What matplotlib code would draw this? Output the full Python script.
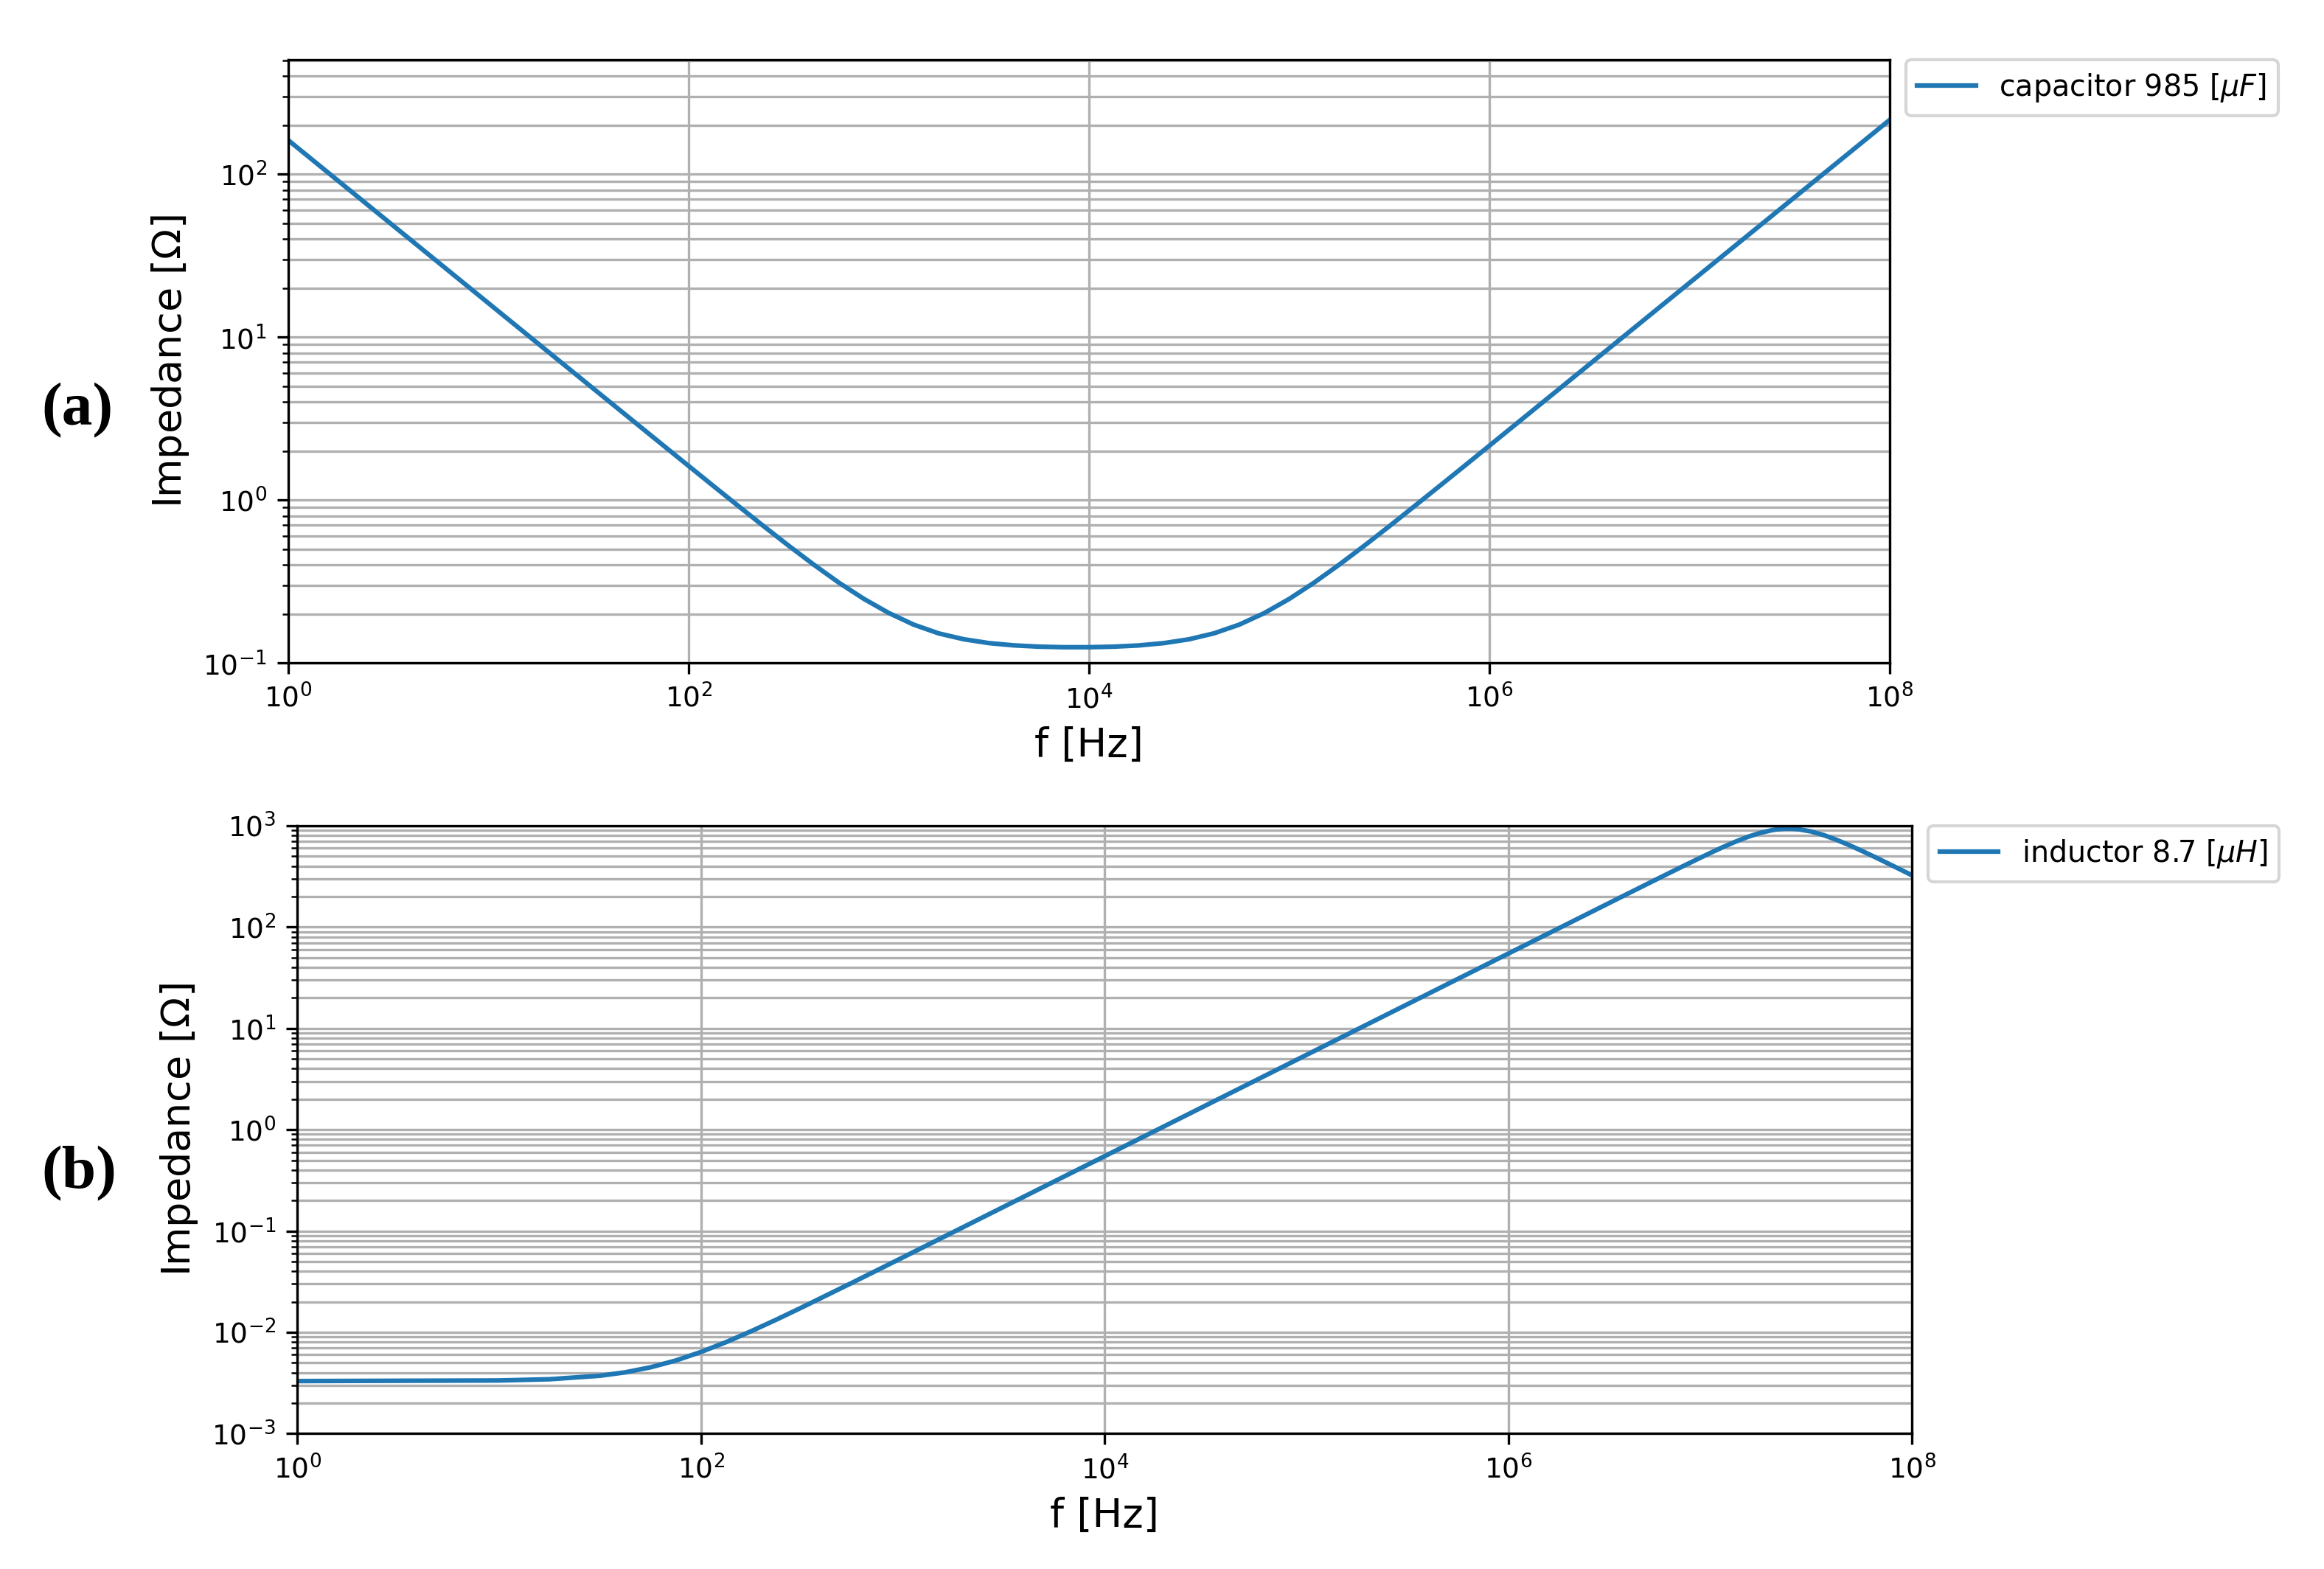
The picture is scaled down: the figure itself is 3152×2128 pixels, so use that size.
import numpy as np
import matplotlib
matplotlib.use('Agg')
import matplotlib.pyplot as plt
from matplotlib.ticker import NullLocator

# capacitor 985 uF : |Z| (log10 of f, |Z| in ohm)
logf_cap = [0, 0.5, 1, 1.5, 1.75, 1.875, 2, 2.125, 2.25, 2.375, 2.5, 2.625, 2.75, 2.875,
            3, 3.125, 3.25, 3.375, 3.5, 3.625, 3.75, 3.875, 4, 4.125, 4.25, 4.375, 4.5,
            4.625, 4.75, 4.875, 5, 5.125, 5.25, 5.375, 5.5, 5.625, 5.75, 5.875, 6, 7, 8]
z_cap = [161.6, 51.1, 16.16, 5.11, 2.876, 2.158, 1.621, 1.218, 0.917, 0.692, 0.525, 0.402, 0.312, 0.248,
         0.203, 0.172, 0.152, 0.140, 0.1326, 0.1284, 0.1261, 0.1251, 0.1251, 0.1261, 0.1283, 0.1326, 0.1399,
         0.1522, 0.1719, 0.2022, 0.2472, 0.3115, 0.4012, 0.524, 0.690, 0.915, 1.215, 1.616, 2.153, 21.5, 215.0]

# inductor 8.7 uH : |Z|
logf_ind = [0, 1, 1.25, 1.5, 1.625, 1.75, 1.875, 2, 2.125, 2.25, 2.375, 2.5, 2.75, 3, 4, 5, 6,
            6.5, 6.625, 6.75, 6.875, 7, 7.0625, 7.125, 7.1875, 7.25, 7.3125, 7.34375, 7.375,
            7.40625, 7.4375, 7.5, 7.5625, 7.625, 7.6875, 7.75, 7.8125, 7.875, 7.9375, 8]
z_ind = [0.00330, 0.003345, 0.00344, 0.003725, 0.004025, 0.00451, 0.005262, 0.00639, 0.0080, 0.01027,
         0.01337, 0.0176, 0.0309, 0.0548, 0.547, 5.47, 54.7,
         172.8, 230.3, 306.7, 407.5, 537.8, 614.1, 695.6, 778.1, 853.2, 909.6, 927.0, 935.3,
         934.4, 924.1, 878.5, 809.4, 728.5, 645.9, 567.2, 495.3, 430.9, 374.2, 324.6]

cap_label = 'capacitor 985 [$\\mu F$]'
ind_label = 'inductor 8.7 [$\\mu H$]'
xticks = [1, 1e2, 1e4, 1e6, 1e8]

fig = plt.figure(figsize=(3152/300, 2128/300), dpi=300)

ax1 = fig.add_axes([0.1240, 0.5774, 0.6891, 0.3846])
ax2 = fig.add_axes([0.1279, 0.0863, 0.6948, 0.3874])

for ax, lf, z, lab, ylim in [(ax1, logf_cap, z_cap, cap_label, (1e-1, 504)),
                             (ax2, logf_ind, z_ind, ind_label, (1e-3, 1e3))]:
    ax.loglog(np.power(10.0, lf), z, color='#1f77b4', linewidth=1.5, label=lab)
    ax.set_xlim(1, 1e8)
    ax.set_ylim(*ylim)
    ax.set_xticks(xticks)
    ax.xaxis.set_minor_locator(NullLocator())
    ax.grid(True, which='both', color='#b0b0b0', linewidth=0.8)
    ax.set_xlabel('f [Hz]', fontsize=13)
    ax.set_ylabel('Impedance [$\\Omega$]', fontsize=13)
    ax.tick_params(labelsize=9)
    ax.legend(loc='upper left', bbox_to_anchor=(1.01, 1), borderaxespad=0, fontsize=9.5)

fig.text(105/3152, 1-557/2128, '(a)', fontsize=20, fontweight='bold', family='Liberation Serif',
         ha='center', va='center')
fig.text(107/3152, 1-1592/2128, '(b)', fontsize=20, fontweight='bold', family='Liberation Serif',
         ha='center', va='center')

fig.savefig('out.png', dpi=300)
